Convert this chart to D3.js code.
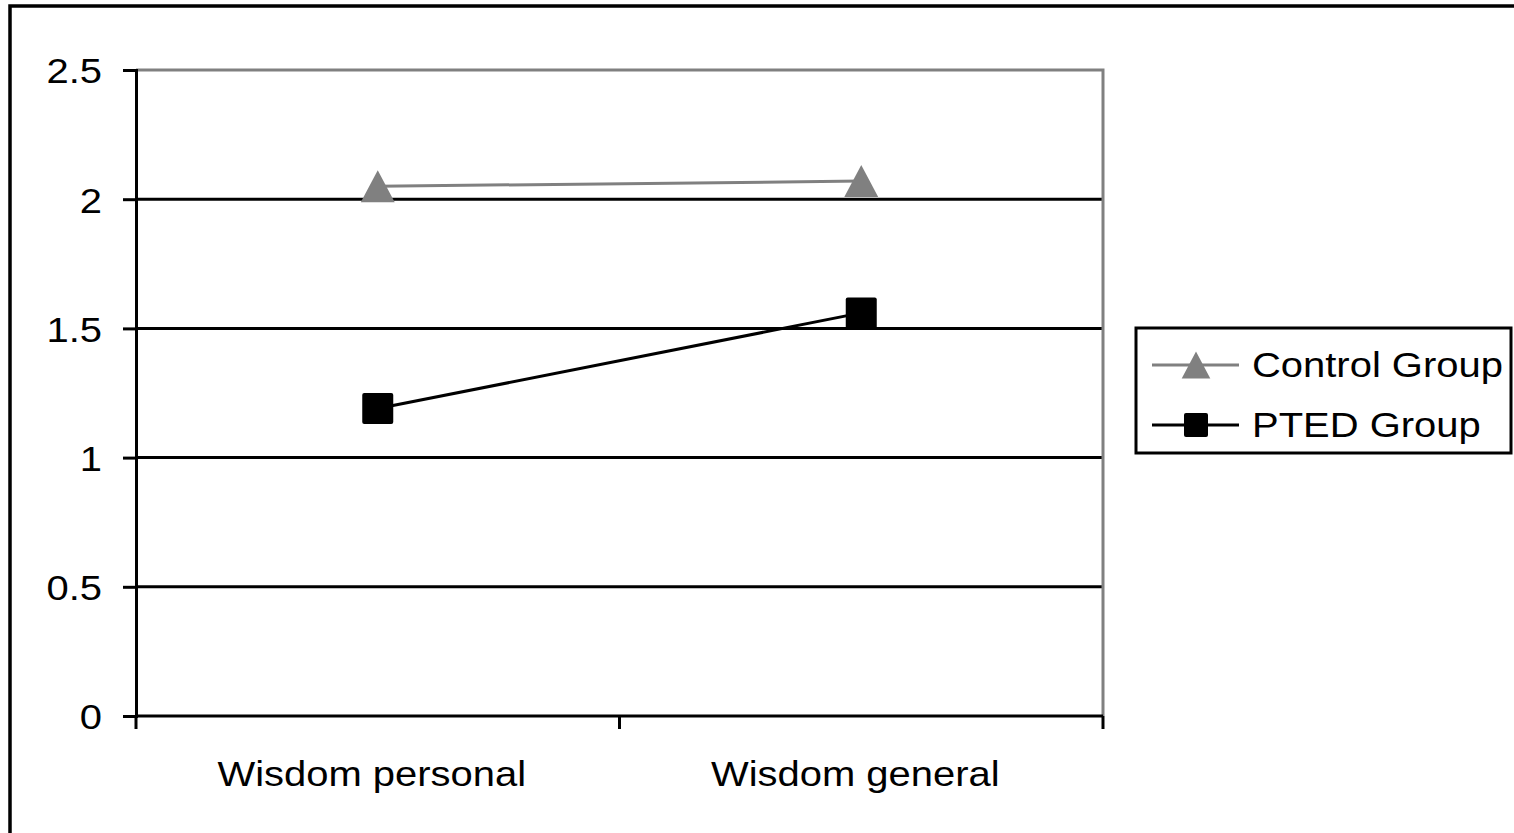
<!DOCTYPE html>
<html>
<head>
<meta charset="utf-8">
<script src="https://cdn.jsdelivr.net/npm/d3@7/dist/d3.min.js"></script>
<style>
  html, body { margin: 0; padding: 0; background: #fff; }
  svg { display: block; }
  text { font-family: "Liberation Sans", Arial, sans-serif; font-size: 36px; fill: #000; }
</style>
</head>
<body>
<svg id="chart" width="1514" height="833"></svg>
<script>
// Chart data
const categories = ["Wisdom personal", "Wisdom general"];
const seriesNames = ["Control Group", "PTED Group"];
const controlValues = [2.05, 2.07];
const ptedValues = [1.19, 1.56];
const yTickValues = [0, 0.5, 1, 1.5, 2, 2.5];
const yTickLabels = ["0", "0.5", "1", "1.5", "2", "2.5"];

const svg = d3.select("#chart");
const W = 1514, H = 833;
const textStretch = 1.11; // wide letterforms

// Plot area
const plot = { left: 136, right: 1103, top: 70, bottom: 716 };

const x = d3.scaleBand().domain(categories).range([plot.left, plot.right]).padding(0);
const cx = c => x(c) + x.bandwidth() / 2;
const y = d3.scaleLinear().domain([0, 2.5]).range([plot.bottom, plot.top]);

// Outer chart border (extends beyond the right and bottom edges)
svg.append("rect")
  .attr("x", 10).attr("y", 6)
  .attr("width", W + 20).attr("height", H + 20)
  .attr("fill", "none").attr("stroke", "#000").attr("stroke-width", 3.5);

// Horizontal gridlines
svg.append("g")
  .selectAll("line")
  .data(yTickValues.filter(v => v > 0 && v < 2.5))
  .join("line")
  .attr("x1", plot.left).attr("x2", plot.right)
  .attr("y1", d => y(d)).attr("y2", d => y(d))
  .attr("stroke", "#000").attr("stroke-width", 3);

// Plot area border (top and right in gray)
svg.append("path")
  .attr("d", `M${plot.left},${y(2.5)}H${plot.right}V${plot.bottom}`)
  .attr("fill", "none").attr("stroke", "#808080").attr("stroke-width", 3);

// Y axis
const yAxis = d3.axisLeft(y)
  .tickValues(yTickValues)
  .tickFormat((d, i) => yTickLabels[i])
  .tickSize(13).tickPadding(0);
const gy = svg.append("g").attr("transform", `translate(${plot.left},0)`).call(yAxis);
gy.attr("font-size", null).attr("font-family", null);
gy.select(".domain").attr("stroke", "#000").attr("stroke-width", 3);
gy.selectAll(".tick line").attr("stroke", "#000").attr("stroke-width", 3);
gy.selectAll(".tick text")
  .attr("x", 0)
  .attr("dy", "0.36em")
  .attr("transform", `translate(-34,0) scale(${textStretch},1)`);

// X axis: tick marks at category boundaries
const boundaries = categories.map(c => x(c)).concat([plot.right]);
svg.append("line")
  .attr("x1", plot.left).attr("x2", plot.right)
  .attr("y1", y(0)).attr("y2", y(0))
  .attr("stroke", "#000").attr("stroke-width", 3);
svg.append("g")
  .selectAll("line")
  .data(boundaries)
  .join("line")
  .attr("x1", d => d).attr("x2", d => d)
  .attr("y1", y(0)).attr("y2", y(0) + 13)
  .attr("stroke", "#000").attr("stroke-width", 3);
svg.append("g")
  .selectAll("text")
  .data(categories)
  .join("text")
  .attr("transform", d => `translate(${cx(d) - 6},${y(0) + 70}) scale(${textStretch},1)`)
  .attr("text-anchor", "middle")
  .text(d => d);

// Triangle marker centred on its bounding box
const boxTriangle = {
  draw(ctx, size) {
    const s = Math.sqrt(size);
    ctx.moveTo(0, -s / 2);
    ctx.lineTo(s / 2, s / 2);
    ctx.lineTo(-s / 2, s / 2);
    ctx.closePath();
  }
};

const lineGen = d3.line().x(d => cx(d.c)).y(d => y(d.v));
const controlPts = categories.map((c, i) => ({ c, v: controlValues[i] }));
const ptedPts = categories.map((c, i) => ({ c, v: ptedValues[i] }));

// Control Group series
svg.append("path").datum(controlPts)
  .attr("d", lineGen)
  .attr("fill", "none").attr("stroke", "#808080").attr("stroke-width", 3);
svg.append("g").selectAll("path")
  .data(controlPts).join("path")
  .attr("transform", d => `translate(${cx(d.c)},${y(d.v)}) scale(1.06,1)`)
  .attr("d", d3.symbol().type(boxTriangle).size(32 * 32))
  .attr("fill", "#808080");

// PTED Group series
svg.append("path").datum(ptedPts)
  .attr("d", lineGen)
  .attr("fill", "none").attr("stroke", "#000").attr("stroke-width", 3);
svg.append("g").selectAll("rect")
  .data(ptedPts).join("rect")
  .attr("x", d => cx(d.c) - 15.5).attr("y", d => y(d.v) - 15.5)
  .attr("width", 31).attr("height", 31).attr("rx", 2)
  .attr("fill", "#000");

// Legend
const legend = svg.append("g");
legend.append("rect")
  .attr("x", 1136).attr("y", 328).attr("width", 375).attr("height", 125)
  .attr("fill", "#fff").attr("stroke", "#000").attr("stroke-width", 3);
const legendRows = [
  { name: seriesNames[0], color: "#808080", marker: "triangle", y: 365 },
  { name: seriesNames[1], color: "#000", marker: "square", y: 425 }
];
legendRows.forEach(r => {
  legend.append("line")
    .attr("x1", 1152).attr("x2", 1239).attr("y1", r.y).attr("y2", r.y)
    .attr("stroke", r.color).attr("stroke-width", 3);
  if (r.marker === "triangle") {
    legend.append("path")
      .attr("transform", `translate(1196,${r.y}) scale(1.06,1)`)
      .attr("d", d3.symbol().type(boxTriangle).size(27 * 27))
      .attr("fill", r.color);
  } else {
    legend.append("rect")
      .attr("x", 1196 - 12).attr("y", r.y - 12)
      .attr("width", 24).attr("height", 24).attr("rx", 2)
      .attr("fill", r.color);
  }
  legend.append("text")
    .attr("transform", `translate(1252,${r.y + 12}) scale(${textStretch},1)`)
    .text(r.name);
});
</script>
</body>
</html>
